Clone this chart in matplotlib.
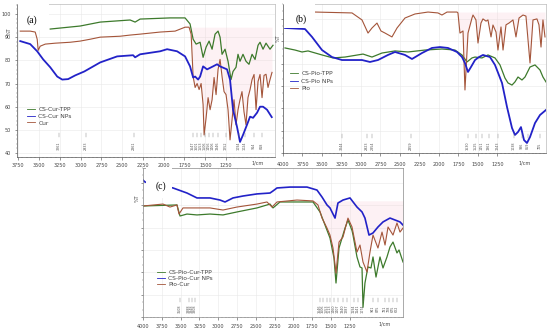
import numpy as np
import matplotlib
matplotlib.use('Agg')
import matplotlib.pyplot as plt
from matplotlib.ticker import MultipleLocator
from matplotlib.patches import Rectangle
from matplotlib.lines import Line2D

W, H = 550, 332

# ---- panel (a): curcumin series (wavenumber 1/cm, %T) ----
a_tpp_wn = [3365, 3005, 2764, 2404, 2344, 2284, 1923, 1743, 1683, 1646, 1610, 1562, 1526, 1490, 1454, 1418,
            1382, 1346, 1322, 1298, 1262, 1226, 1190, 1166, 1130, 1106, 1082, 1046, 1010, 974, 937, 901, 865,
            841, 805, 769, 721, 685]
a_tpp_t = [93.5, 94.8, 96.5, 97.4, 96.5, 97.8, 98.3, 98.3, 95.7, 89.1, 87.0, 87.8, 81.3, 85.7, 88.3, 84.8,
           91.3, 92.6, 90.0, 82.6, 84.8, 79.6, 71.7, 75.2, 77.0, 82.6, 79.6, 82.6, 79.6, 78.3, 82.6, 80.4, 86.5,
           87.8, 84.8, 87.4, 84.8, 86.5]
a_nps_wn = [3726, 3606, 3522, 3450, 3365, 3281, 3221, 3150, 3065, 2955, 2764, 2560, 2368, 2344, 2284, 2043,
            1959, 1839, 1743, 1683, 1646, 1622, 1586, 1562, 1526, 1478, 1406, 1358, 1322, 1238, 1202, 1166,
            1118, 1082, 1046, 998, 961, 925, 877, 841, 805, 757, 700]
a_nps_t = [88.3, 87.0, 83.9, 80.4, 77.0, 73.0, 71.7, 71.9, 73.5, 75.2, 79.1, 81.7, 82.2, 81.3, 82.6, 83.9,
           84.8, 83.9, 81.7, 77.4, 72.6, 73.0, 71.7, 73.0, 77.4, 76.1, 77.4, 78.3, 77.4, 76.1, 71.7, 58.7,
           51.3, 44.8, 47.8, 52.2, 55.7, 55.2, 57.4, 60.0, 60.0, 58.7, 55.5]
a_drug_wn = [3726, 3606, 3546, 3522, 3510, 3486, 3425, 3305, 3125, 3005, 2945, 2885, 2764, 2524, 2404, 2284,
             2043, 1863, 1743, 1695, 1670, 1646, 1622, 1598, 1574, 1550, 1526, 1514, 1490, 1466, 1442, 1418,
             1394, 1370, 1346, 1322, 1298, 1274, 1250, 1226, 1202, 1178, 1154, 1130, 1106, 1082, 1058, 1034,
             1010, 986, 961, 937, 913, 889, 865, 841, 817, 793, 769, 745, 721, 697]
a_drug_t = [92.6, 92.6, 92.2, 89.1, 84.3, 86.1, 87.0, 87.4, 87.8, 88.3, 88.7, 89.1, 90.0, 90.4, 90.9, 91.3,
            92.2, 92.6, 94.3, 94.3, 91.3, 73.0, 68.3, 70.0, 67.4, 70.0, 60.9, 47.8, 55.2, 63.9, 58.7, 63.0,
            72.6, 65.2, 76.1, 80.4, 73.0, 66.5, 65.2, 58.7, 45.7, 54.3, 63.0, 52.2, 58.7, 63.0, 66.5, 57.8,
            52.2, 63.9, 67.4, 71.7, 73.9, 58.7, 70.9, 73.9, 63.9, 73.5, 74.0, 68.3, 71.7, 74.8]
a_peaks = [3261, 2933, 2361, 1647, 1601, 1553, 1506, 1456, 1406, 1346, 1252, 1094, 1024, 914, 818]

# ---- panel (b): pioglitazone series ----
b_tpp_wn = [3974, 3846, 3756, 3679, 3500, 3359, 3205, 2974, 2859, 2731, 2564, 2397, 2179, 1962, 1795, 1705,
            1641, 1577, 1538, 1449, 1372, 1282, 1218, 1154, 1115, 1064, 1026, 987, 936, 897, 833, 769, 705,
            667, 628]
b_tpp_t = [70.5, 69.1, 67.8, 68.5, 65.8, 63.8, 64.4, 66.4, 64.4, 67.1, 68.5, 67.8, 69.1, 69.8, 69.1, 65.8,
           61.1, 63.8, 64.4, 63.8, 65.8, 63.8, 59.1, 50.3, 47.0, 45.6, 47.7, 51.0, 49.0, 51.0, 57.7, 59.1, 55.7,
           51.0, 47.7]
b_nps_wn = [3974, 3718, 3628, 3500, 3372, 3244, 3115, 2987, 2885, 2782, 2654, 2564, 2436, 2346, 2218, 2090,
            1987, 1885, 1769, 1705, 1667, 1628, 1590, 1538, 1487, 1436, 1346, 1282, 1192, 1128, 1064, 1026,
            987, 949, 910, 872, 833, 769, 705, 628]
b_nps_t = [83.9, 83.2, 77.9, 69.1, 64.4, 62.4, 62.4, 62.4, 61.1, 62.4, 65.8, 67.8, 65.8, 63.1, 67.1, 70.5,
           71.1, 70.5, 67.8, 64.4, 60.4, 54.4, 57.7, 62.4, 64.4, 65.8, 64.4, 59.1, 47.0, 30.9, 16.8, 12.1,
           14.1, 17.4, 8.7, 6.7, 10.7, 20.1, 25.5, 28.9]
b_drug_wn = [3590, 3115, 2987, 2910, 2859, 2795, 2744, 2692, 2603, 2538, 2436, 2308, 2141, 2013, 1962, 1897,
             1769, 1757, 1731, 1692, 1667, 1628, 1577, 1564, 1526, 1500, 1462, 1436, 1397, 1372, 1333, 1308,
             1269, 1244, 1205, 1179, 1141, 1103, 1051, 1013, 974, 923, 885, 833, 795, 744, 718, 692, 667, 641]
b_drug_t = [94.6, 94.0, 89.3, 80.5, 83.9, 87.2, 81.9, 80.5, 77.9, 83.9, 90.6, 93.3, 94.6, 94.0, 92.6, 94.6,
            94.6, 94.0, 80.5, 81.9, 42.3, 80.5, 90.6, 92.6, 89.3, 73.8, 87.2, 90.0, 88.5, 89.3, 77.9, 85.9,
            81.2, 69.1, 84.6, 69.1, 86.0, 87.2, 89.3, 77.9, 90.6, 92.6, 91.9, 60.4, 89.3, 90.0, 86.0, 71.1,
            89.3, 77.9]
b_peaks = [3244, 2923, 2854, 2359, 1630, 1525, 1451, 1361, 1243, 1038, 936, 859, 705]

# ---- panel (c): pioglitazone + curcumin series ----
c_tpp_wn = [4000, 3548, 3508, 3415, 3282, 3109, 2936, 2750, 2484, 2311, 2271, 2178, 1739, 1646, 1579, 1513,
            1460, 1433, 1393, 1313, 1274, 1220, 1207, 1154, 1114, 1087, 1074, 1048, 1008, 968, 941, 901, 848,
            808, 755, 715, 675, 622, 595, 542]
c_tpp_t = [74.5, 75.2, 67.8, 69.1, 68.5, 69.1, 68.5, 70.5, 73.2, 75.8, 73.2, 77.2, 77.2, 70.5, 61.7, 53.0,
           39.6, 22.8, 46.3, 59.7, 65.1, 58.0, 55.0, 40.3, 33.6, 32.9, 6.5, 22.8, 33.6, 32.9, 40.3, 26.8, 40.3,
           32.9, 40.3, 47.0, 50.3, 43.0, 45.0, 36.9]
c_nps_wn = [4000, 3973, 3601, 3415, 3282, 3109, 2976, 2909, 2803, 2670, 2484, 2311, 2271, 2218, 2045, 1819,
            1686, 1619, 1553, 1513, 1446, 1407, 1340, 1247, 1154, 1087, 1048, 994, 941, 875, 808, 715, 648,
            582, 542]
c_nps_t = [91.9, 90.6, 86.6, 83.2, 79.9, 79.9, 78.5, 77.2, 79.9, 81.2, 82.6, 83.2, 84.6, 86.6, 87.2, 87.2,
           85.2, 80.5, 75.2, 73.2, 66.4, 76.5, 78.5, 79.9, 73.8, 70.5, 66.4, 55.0, 56.4, 60.4, 63.8, 66.4, 65.1,
           63.8, 61.7]
c_drug_wn = [4000, 3734, 3641, 3548, 3521, 3468, 3335, 3109, 2936, 2750, 2484, 2351, 2284, 2218, 1952, 1739,
             1673, 1619, 1553, 1513, 1473, 1433, 1393, 1340, 1274, 1220, 1154, 1114, 1074, 1021, 981, 941, 875,
             821, 781, 741, 675, 622, 582, 542]
c_drug_t = [74.5, 75.8, 73.8, 75.2, 69.1, 73.2, 73.2, 73.2, 71.8, 73.8, 75.8, 77.2, 73.8, 77.2, 78.5, 77.9,
            75.2, 66.4, 59.7, 55.0, 46.3, 29.5, 50.3, 53.7, 66.4, 60.4, 43.6, 48.3, 36.9, 30.2, 43.6, 55.0, 46.3,
            57.0, 48.3, 60.4, 55.0, 63.1, 57.0, 59.7]
c_peaks = [3508, 3388, 3348, 3308, 1646, 1606, 1553, 1513, 1460, 1407, 1340, 1287, 1194, 1141, 1074, 941,
           875, 781, 728, 675, 622]

GREEN = '#3d7a2c'
BLUE = '#2222c8'
BROWN = '#a4553a'
PINK = '#f8cfd8'

fig = plt.figure(figsize=(W / 100, H / 100), dpi=100, facecolor='white')


def px_axes(l, t, r, b):
    return fig.add_axes([l / W, 1 - b / H, (r - l) / W, (b - t) / H])


def style(ax, xlim, ylim, xstart, pad, ylabels):
    ax.set_xlim(xlim)
    ax.set_ylim(ylim)
    ax.set_xticks(np.arange(1250, xstart + 1, 250))
    ax.xaxis.set_minor_locator(MultipleLocator(50))
    if ylabels:
        ax.set_yticks(np.arange(40, 101, 10))
        ax.yaxis.set_minor_locator(MultipleLocator(2))
    else:
        ax.yaxis.set_major_locator(MultipleLocator(15))
        ax.yaxis.set_minor_locator(MultipleLocator(5))
        ax.set_yticklabels([])
    ax.tick_params(which='major', labelsize=3.5, length=1.8, width=0.4, pad=pad, colors='#444')
    ax.tick_params(which='minor', length=1.0, width=0.3, colors='#666')
    ax.grid(True, color='#e8e8e8', lw=0.4)
    ax.set_axisbelow(True)
    for name, s in ax.spines.items():
        s.set_linewidth(0.5)
        s.set_color('#555' if name in ('left', 'bottom') else '#bbb')


def peaks(ax, vals, ytext, ytick):
    tr = ax.get_xaxis_transform()
    for v in vals:
        ax.plot([v, v], [ytick, ytick + 0.03], color='#777', lw=0.3, transform=tr)
        ax.text(v, ytext, str(v), rotation=90, fontsize=2.4, color='#555',
                ha='center', va='center', transform=tr)


def legend(ax, labels, x, y, spacing):
    handles = [Line2D([], [], color=c, lw=0.6) for c in (GREEN, BLUE, BROWN)]
    leg = ax.legend(handles, labels, loc='upper left', bbox_to_anchor=(x / W, 1 - y / H),
                    bbox_transform=fig.transFigure, frameon=False, fontsize=4.3,
                    handlelength=1.4, handletextpad=0.5, labelspacing=spacing, borderpad=0)
    for t in leg.get_texts():
        t.set_color('#444')


def panel_label(ax, txt, x, y, box):
    ax.add_patch(Rectangle((box[0], box[1]), box[2], box[3], transform=ax.transAxes,
                           facecolor='white', edgecolor='none', zorder=5))
    ax.text(x, y, txt, transform=ax.transAxes, fontsize=7, family='Liberation Serif',
            ha='center', va='center', zorder=6)


# ---------------- (a) ----------------
ax1 = px_axes(17, 4, 275, 157)
ax1.fill_between(a_drug_wn[19:], a_drug_t[19:], 94.3, color=PINK, alpha=0.28, lw=0)
ax1.plot(a_tpp_wn, a_tpp_t, color=GREEN, lw=0.9)
ax1.plot(a_drug_wn, a_drug_t, color=BROWN, lw=0.8)
ax1.plot(a_nps_wn, a_nps_t, color=BLUE, lw=1.3)
style(ax1, (3765, 661), (38.3, 104.3), 3750, 2.5, True)
ax1.text(-0.031, 0.82, '%T', rotation=90, fontsize=3.5, color='#444', transform=ax1.transAxes,
         ha='center', va='center')
ax1.text(866, -0.04, '1/cm', fontsize=3.5, color='#444', ha='center', va='center',
         transform=ax1.get_xaxis_transform())
peaks(ax1, a_peaks, 0.075, 0.13)
legend(ax1, ['CS-Cur-TPP', 'CS-Cur NPs', 'Cur'], 24, 104, 0.25)
panel_label(ax1, '(a)', 0.056, 0.895, (0.005, 0.83, 0.12, 0.17))

# ---------------- (b) ----------------
ax2 = px_axes(283, 4, 546, 153)
ax2.fill_between(b_drug_wn[16:], b_drug_t[16:], 94.6, color=PINK, alpha=0.28, lw=0)
ax2.plot(b_tpp_wn, b_tpp_t, color=GREEN, lw=0.9)
ax2.plot(b_drug_wn, b_drug_t, color=BROWN, lw=0.8)
ax2.plot(b_nps_wn, b_nps_t, color=BLUE, lw=1.3)
style(ax2, (4000, 628), (0, 100), 4000, 5, False)
ax2.text(-0.019, 0.77, '%T', rotation=90, fontsize=3.5, color='#444', transform=ax2.transAxes,
         ha='center', va='center')
ax2.text(900, -0.067, '1/cm', fontsize=3.5, color='#444', ha='center', va='center',
         transform=ax2.get_xaxis_transform())
peaks(ax2, b_peaks, 0.05, 0.1)
legend(ax2, ['CS-Pio-TPP', 'CS-Pio NPs', 'Pio'], 287, 68, 0.4)
panel_label(ax2, '(b)', 0.07, 0.895, (0.005, 0.84, 0.115, 0.16))

# ---------------- (c) ----------------
ax3 = px_axes(143, 168, 403, 317)
ax3.fill_between(c_drug_wn[15:], c_drug_t[15:], 78, color=PINK, alpha=0.28, lw=0)
ax3.plot(c_tpp_wn, c_tpp_t, color=GREEN, lw=0.9)
ax3.plot(c_drug_wn, c_drug_t, color=BROWN, lw=0.8)
ax3.plot(c_nps_wn, c_nps_t, color=BLUE, lw=1.2)
style(ax3, (4000, 542), (0, 100), 4000, 3, False)
for s in ax3.spines.values():
    s.set_color('#888')
ax3.text(-0.023, 0.80, '%T', rotation=90, fontsize=3.5, color='#444', transform=ax3.transAxes,
         ha='center', va='center')
ax3.text(790, -0.047, '1/cm', fontsize=3.5, color='#444', ha='center', va='center',
         transform=ax3.get_xaxis_transform())
peaks(ax3, c_peaks, 0.055, 0.1)
legend(ax3, ['CS-Pio-Cur-TPP', 'CS-Pio-Cur NPs', 'Pio-Cur'], 154, 267, 0.1)
panel_label(ax3, '(c)', 0.07, 0.875, (0.012, 0.80, 0.1, 0.2))

fig.savefig('out.png', dpi=100, facecolor='white')
